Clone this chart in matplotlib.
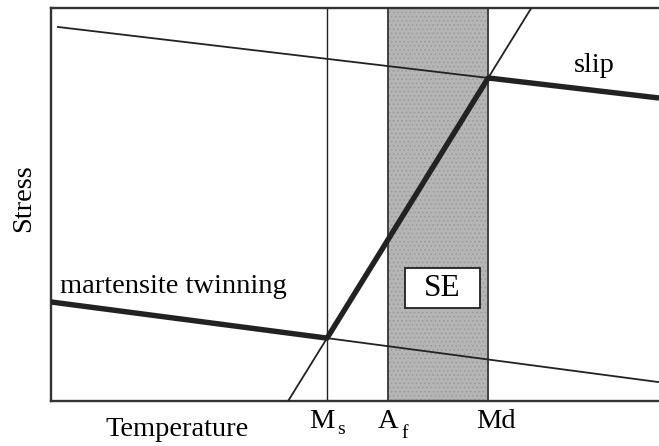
import matplotlib.pyplot as plt
from matplotlib.patches import Rectangle

plt.rcParams["font.family"] = ["Liberation Serif", "DejaVu Serif"]
plt.rcParams["hatch.linewidth"] = 0.6

# Schematic values (temperature / stress on a 0-100 scale)
MS, AF, MD = 45.4, 55.4, 71.9

# critical stress for slip (thin, then thick above Md)
slip_x = [1.0, MD, 100.0]
slip_y = [95.2, 82.2, 77.1]

# martensite twinning stress (thick below Ms, thin above)
twin_x = [0.0, MS, 100.0]
twin_y = [25.2, 16.0, 4.8]

# stress-induced martensite line (thick between Ms and Md)
sim_x = [39.0, MS, MD, 79.0]
sim_y = [0.0, 16.0, 82.2, 100.0]

INK = "#222222"
THIN = 1.3
THICK = 3.9
FS = 20.5

fig = plt.figure(figsize=(6.59, 4.46), dpi=100)
ax = fig.add_axes([51 / 659, 45 / 446, 608 / 659, 393 / 446])
ax.set_xlim(0, 100)
ax.set_ylim(0, 100)
ax.set_xticks([])
ax.set_yticks([])
ax.spines["right"].set_visible(False)
for side in ("left", "top", "bottom"):
    ax.spines[side].set_color("#333333")
    ax.spines[side].set_linewidth(1.7)

# superelastic window
ax.axvspan(AF, MD, facecolor="#b5b5b5", edgecolor="#444444", lw=1.3, zorder=1)
ax.axvspan(AF, MD, facecolor="none", edgecolor="#999999", hatch="....", lw=0, zorder=1.1)
ax.axvline(AF, color="#444444", lw=1.3, zorder=1.2)
ax.axvline(MD, color="#444444", lw=1.3, zorder=1.2)

# Ms vertical
ax.axvline(MS, color=INK, lw=1.0, zorder=2)

# thin full lines
ax.plot(slip_x, slip_y, color=INK, lw=THIN, zorder=3, solid_capstyle="butt")
ax.plot(twin_x, twin_y, color=INK, lw=THIN, zorder=3, solid_capstyle="butt")
ax.plot(sim_x, sim_y, color=INK, lw=THIN, zorder=3, solid_capstyle="butt")

# thick segments
ax.plot(slip_x[1:], slip_y[1:], color=INK, lw=THICK, zorder=4, solid_capstyle="butt")
ax.plot(twin_x[:2], twin_y[:2], color=INK, lw=THICK, zorder=4, solid_capstyle="butt")
ax.plot(sim_x[1:3], sim_y[1:3], color=INK, lw=THICK, zorder=4, solid_capstyle="round")

# SE box
ax.add_patch(Rectangle((58.3, 23.7), 12.2, 10.2, facecolor="white",
                       edgecolor=INK, lw=1.3, zorder=5))
ax.text(64.4, 28.6, "SE", fontsize=22.5, ha="center", va="center", zorder=6)

ax.text(1.5, 27.6, "martensite twinning", fontsize=FS, ha="left", va="baseline")
ax.text(89.3, 83.8, "slip", fontsize=FS, ha="center", va="baseline")

# temperature markers: main letter + lowered subscript
BASE_Y = -6.9
for x, main, sub, dx_main, dx_sub, dy_sub in [
    (MS, "M", "s", -5, 10, -6),
    (AF, "A", "f", 0, 14, -10),
]:
    ax.annotate(main, (x, BASE_Y), xytext=(dx_main, 0), textcoords="offset pixels",
                fontsize=FS, ha="center", va="baseline", annotation_clip=False)
    ax.annotate(sub, (x, BASE_Y), xytext=(dx_sub, dy_sub), textcoords="offset pixels",
                fontsize=14, ha="left", va="baseline", annotation_clip=False)
ax.annotate("Md", (MD, BASE_Y), xytext=(8, 0), textcoords="offset pixels",
            fontsize=FS, ha="center", va="baseline", annotation_clip=False)

ax.text(20.7, -8.9, "Temperature", fontsize=FS, ha="center", va="baseline", clip_on=False)
ax.text(-4.5, 51.5, "Stress", fontsize=FS, ha="center", va="center", rotation=90, clip_on=False)

fig.savefig("out.png", dpi=100)
